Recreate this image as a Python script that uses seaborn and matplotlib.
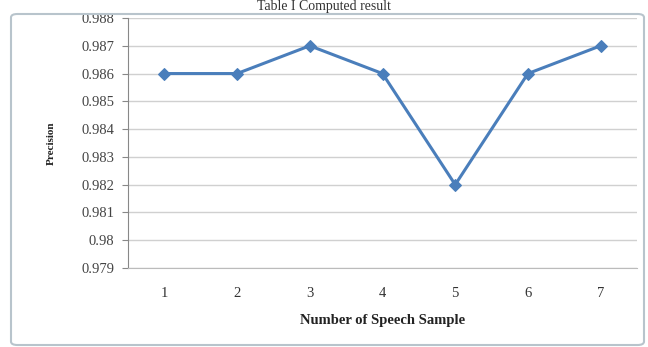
import matplotlib
matplotlib.use("Agg")
import matplotlib.pyplot as plt
import seaborn as sns
import pandas as pd
from matplotlib.patches import FancyBboxPatch

# Data
samples = [1, 2, 3, 4, 5, 6, 7]
precision = [0.986, 0.986, 0.987, 0.986, 0.982, 0.986, 0.987]
y_ticks = [0.979, 0.98, 0.981, 0.982, 0.983, 0.984, 0.985, 0.986, 0.987, 0.988]
y_tick_labels = ["0.979", "0.98", "0.981", "0.982", "0.983", "0.984",
                 "0.985", "0.986", "0.987", "0.988"]

df = pd.DataFrame({"sample": samples, "precision": precision})

sns.set_style("white")
plt.rcParams['font.family'] = ['Liberation Serif', 'DejaVu Serif']

fig = plt.figure(figsize=(6.48, 3.47), dpi=100)
ax = fig.add_axes([128 / 648, 1 - 268 / 347, 509 / 648, 250 / 347])

# outer chart frame
frame = FancyBboxPatch((11 / 648, 2 / 347), 633 / 648, 331 / 347,
                       boxstyle="round,pad=0,rounding_size=0.01",
                       transform=fig.transFigure, fill=False,
                       edgecolor="#b8c4cc", linewidth=1.5, zorder=0)
fig.patches.append(frame)
fig.text(0.5, 0.999, "Table I Computed result", ha="center", va="top",
         fontsize=10, color="#333333")

sns.lineplot(data=df, x="sample", y="precision", ax=ax, color="#4a7ebb",
             linewidth=2.2, marker="D", markersize=6,
             markeredgecolor="#4a7ebb")

ax.set_xlim(0.5, 7.5)
ax.set_ylim(0.979, 0.988)
ax.set_yticks(y_ticks)
ax.set_yticklabels(y_tick_labels)
ax.set_xticks(samples)
ax.yaxis.grid(True, color="#d0d0d0", linewidth=1)
ax.xaxis.grid(False)
for s in ["top", "right"]:
    ax.spines[s].set_visible(False)
ax.spines["left"].set_color("#888888")
ax.spines["bottom"].set_color("#bbbbbb")
ax.tick_params(axis="y", left=True, length=4, color="#888888",
               labelsize=10.5, labelcolor="#444444", pad=6)
ax.tick_params(axis="x", bottom=False, labelsize=10.5,
               labelcolor="#333333", pad=10)

ax.set_xlabel("Number of Speech Sample", fontsize=10.5, fontweight="bold",
              color="#222222", labelpad=10)
ax.set_ylabel("Precision", fontsize=8, fontweight="bold", color="#222222",
              labelpad=18)

fig.savefig("out.png", dpi=100)
